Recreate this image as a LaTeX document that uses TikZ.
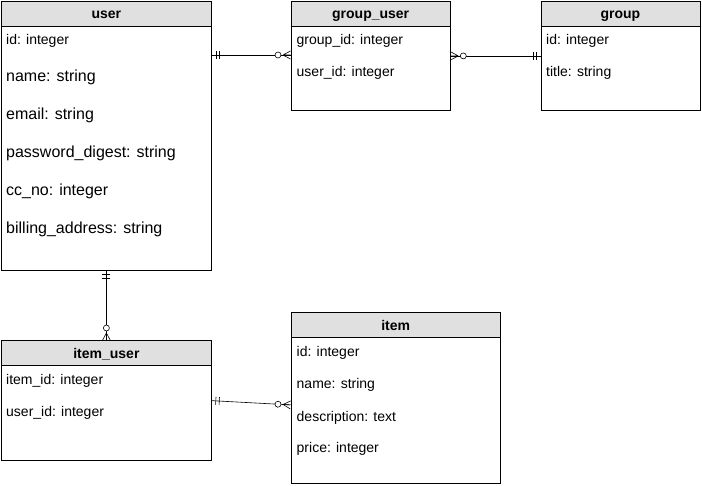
\documentclass[tikz,border=0pt]{standalone}
\usepackage{fontspec}
\setmainfont{Liberation Sans}
\usetikzlibrary{calc}
\usetikzlibrary{decorations.markings}
\definecolor{headgray}{HTML}{E0E0E0}

\begin{document}
\begin{tikzpicture}[x=1pt,y=-1pt,
        table/.style={draw,line width=0.8pt,inner sep=0pt,anchor=north west},
        head/.style={draw,line width=0.8pt,fill=headgray,inner sep=0pt,anchor=north,
            minimum height=25pt,text height=11pt,text depth=1pt,
            font=\fontsize{14}{16}\selectfont\bfseries},
        attr/.style={anchor=base west,inner sep=0pt,font=\fontsize{14}{16}\selectfont},
        attrbig/.style={anchor=base west,inner sep=0pt,font=\fontsize{16}{18}\selectfont},
        onemany/.style={line width=0.6pt,postaction={decorate},
            decoration={
                markings,
                mark= at position 4pt with {\draw[line width=0.6pt] (0,-4pt) -- (0,4pt);},
                mark= at position 7.5pt with {\draw[line width=0.6pt] (0,-4pt) -- (0,4pt);},
                mark= at position -7.5pt with {\draw[line width=0.6pt] (0,0) -- (7.5pt,4pt)
                    (0,0) -- (7.5pt,0) (0,0) -- (7.5pt,-4pt);
                    \draw[line width=0.6pt,fill=white] (-5pt,0) circle (3pt);},
                }},
        ]
    \useasboundingbox (0,0) rectangle (702,486);
    % user
    \node[table,minimum width=210pt,minimum height=269pt] (user) at (1,1) {};
    \node[head,minimum width=210pt] (user-head) at (user.north) {user};
    \node[attr] (user-id) at (6,45) {id: integer};
    \node[attrbig] (user-name) at (6,82) {name: string};
    \node[attrbig] (user-email) at (6,120) {email: string};
    \node[attrbig] (user-pwd) at (6,158) {password\_digest: string};
    \node[attrbig] (user-cc) at (6,196) {cc\_no: integer};
    \node[attrbig] (user-bill) at (6,234) {billing\_address: string};
    % group_user
    \node[table,minimum width=159.5pt,minimum height=109pt] (group-user) at (290.5,1) {};
    \node[head,minimum width=159.5pt] (group-user-head) at (group-user.north) {group\_user};
    \node[attr] (group-user-gid) at (296.5,45) {group\_id: integer};
    \node[attr] (group-user-uid) at (296.5,77) {user\_id: integer};
    % group
    \node[table,minimum width=159pt,minimum height=109pt] (group) at (540.5,1) {};
    \node[head,minimum width=159pt] (group-head) at (group.north) {group};
    \node[attr] (group-id) at (546,45) {id: integer};
    \node[attr] (group-title) at (546,77) {title: string};
    % item_user
    \node[table,minimum width=210pt,minimum height=119.5pt] (item-user) at (1,340.5) {};
    \node[head,minimum width=210pt] (item-user-head) at (item-user.north) {item\_user};
    \node[attr] (item-user-iid) at (6,385) {item\_id: integer};
    \node[attr] (item-user-uid) at (6,417) {user\_id: integer};
    % item
    \node[table,minimum width=209.5pt,minimum height=170pt] (item) at (290.5,312.5) {};
    \node[head,minimum width=209.5pt] (item-head) at (item.north) {item};
    \node[attr] (item-id) at (296.5,357) {id: integer};
    \node[attr] (item-name) at (296.5,389) {name: string};
    \node[attr] (item-desc) at (296.5,421) {description: text};
    \node[attr] (item-price) at (296.5,453) {price: integer};
    % relations
    \draw[onemany] ([yshift=-54pt]user.north east) -- ([yshift=-54pt]group-user.north west);
    \draw[onemany] (group.west) -- (group-user.east);
    \draw[onemany] (user.south) -- (item-user.north);
    \draw[onemany] (item-user.east) -- ([yshift=-7pt]item.west);
\end{tikzpicture}
\end{document}
